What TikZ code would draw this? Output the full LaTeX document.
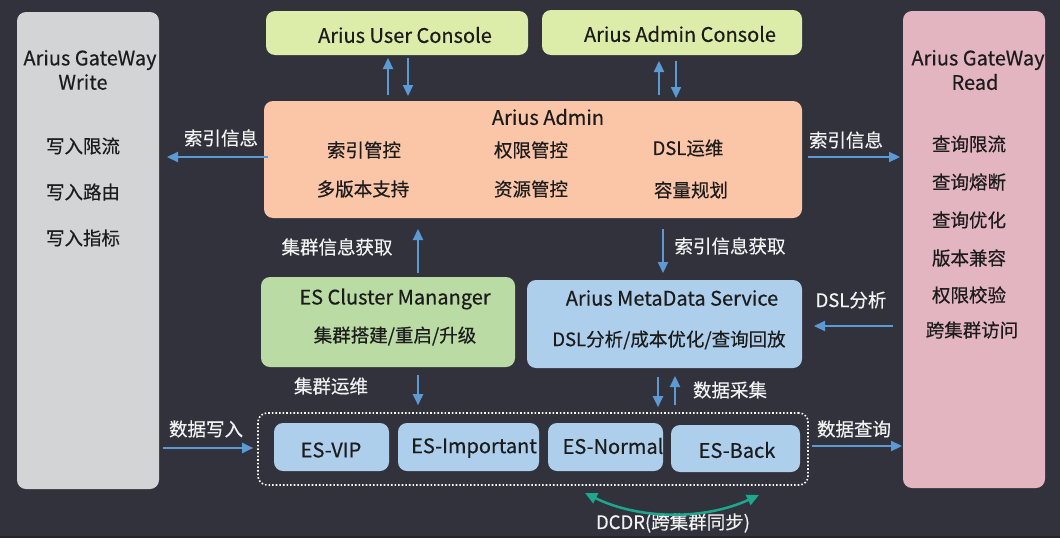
\documentclass[tikz,border=0pt]{standalone}
\usepackage{fontspec}
\setmainfont{Noto Sans CJK SC}[FakeBold=0.45]
\usetikzlibrary{arrows.meta}
\definecolor{bgc}{HTML}{31323C}
\definecolor{gwgray}{HTML}{D3D4D6}
\definecolor{gwpink}{HTML}{E3B5C1}
\definecolor{consolegreen}{HTML}{DCEDA9}
\definecolor{adminsalmon}{HTML}{FBC5A8}
\definecolor{clustergreen}{HTML}{BADBA4}
\definecolor{esblue}{HTML}{AECFEB}
\definecolor{arrowblue}{HTML}{5B9BD5}
\definecolor{tealc}{HTML}{1BA88E}
\definecolor{ink}{HTML}{1C1C1C}
\definecolor{lbl}{HTML}{F2F2F2}
\newcommand\mycjkfont{\fontsize{18.5}{22}\selectfont}
\newcommand\mylatfont{\fontsize{20}{24}\selectfont}
\begin{document}
\begin{tikzpicture}[x=1pt,y=-1pt,
  box/.style={rounded corners=9pt, inner sep=0pt, outer sep=0pt, draw=none},
  ctext/.style={text=ink, inner sep=0pt, font=\mycjkfont},
  ltext/.style={text=ink, inner sep=0pt, font=\mylatfont},
  wlbl/.style={text=lbl, inner sep=0pt, font=\mycjkfont},
  arr/.style={draw=arrowblue, line width=2.2pt, -{Triangle[length=11pt,width=10pt]}},
  dcdr/.style={draw=tealc, line width=2.5pt, {Triangle[length=12pt,width=11pt]}-{Triangle[length=12pt,width=11pt]}},
  dotbox/.style={draw=white, line width=1.6pt, dash pattern=on 1.6pt off 2pt, rounded corners=9pt, inner sep=0pt}
]
\fill[bgc] (0,0) rectangle (1060,538);
\fill[black!85] (0,535.5) rectangle (1060,538);
\useasboundingbox (0,0) rectangle (1060,538);

% boxes
\node[box, fill=gwgray, minimum width=142pt, minimum height=477pt] (gww) at (88,250.5) {};
\node[box, fill=gwpink, minimum width=142pt, minimum height=477pt] (gwr) at (974,249.5) {};
\node[box, fill=consolegreen, minimum width=262pt, minimum height=44pt] (uc) at (397,33) {};
\node[box, fill=consolegreen, minimum width=260pt, minimum height=45pt] (ac) at (672,32.5) {};
\node[box, fill=adminsalmon, minimum width=538pt, minimum height=117pt] (admin) at (533,159.5) {};
\node[box, fill=clustergreen, minimum width=254pt, minimum height=90pt] (cm) at (388,322) {};
\node[box, fill=esblue, minimum width=275pt, minimum height=88pt] (meta) at (664.5,324) {};
\node[dotbox, minimum width=550pt, minimum height=72pt] (cont) at (533,449) {};
\node[box, fill=esblue, minimum width=115pt, minimum height=48pt] (esv) at (331.5,447) {};
\node[box, fill=esblue, minimum width=141pt, minimum height=48pt] (esi) at (468.5,447) {};
\node[box, fill=esblue, minimum width=115pt, minimum height=48pt] (esn) at (605.5,447) {};
\node[box, fill=esblue, minimum width=129pt, minimum height=47pt] (esb) at (735.5,448.5) {};

% texts in boxes
\node[ltext] (tgw1) at (90,60) {Arius GateWay};
\node[ltext] (tgw2) at (83,82) {Write};
\node[ctext] (tw1) at (83,146) {写入限流};
\node[ctext] (tw2) at (83,192) {写入路由};
\node[ctext] (tw3) at (83,238) {写入指标};

\node[ltext] (tgr1) at (978,60) {Arius GateWay};
\node[ltext] (tgr2) at (975,82) {Read};
\node[ctext] (tr1) at (969,144) {查询限流};
\node[ctext] (tr2) at (969,182) {查询熔断};
\node[ctext] (tr3) at (969,220) {查询优化};
\node[ctext] (tr4) at (969,258) {版本兼容};
\node[ctext] (tr5) at (969,295) {权限校验};
\node[ctext] (tr6) at (972,330) {跨集群访问};

\node[ltext] (tuc) at (405,35) {Arius User Console};
\node[ltext] (tac) at (680,34) {Arius Admin Console};

\node[ltext] (tad) at (548,117) {Arius Admin};
\node[ctext] (ta1) at (364,150) {索引管控};
\node[ctext] (ta2) at (363,189) {多版本支持};
\node[ctext] (ta3) at (531,150) {权限管控};
\node[ctext] (ta4) at (531,189) {资源管控};
\node[ctext] (ta5) at (688,148) {DSL运维};
\node[ctext] (ta6) at (691,190) {容量规划};

\node[ltext] (tcm1) at (395,299) {ES Cluster Mananger};
\node[ctext] (tcm2) at (395,336) {集群搭建/重启/升级};
\node[ltext] (tmd1) at (672,298) {Arius MetaData Service};
\node[ctext] (tmd2) at (669,340) {DSL分析/成本优化/查询回放};

\node[ltext] (tesv) at (331,450) {ES-VIP};
\node[ltext] (tesi) at (474,448) {ES-Important};
\node[ltext] (tesn) at (613,446) {ES-Normal};
\node[ltext] (tesb) at (737,450) {ES-Back};

% labels
\node[wlbl] (l1) at (221,138) {索引信息};
\node[wlbl] (l2) at (846,140) {索引信息};
\node[wlbl] (l3) at (337,247) {集群信息获取};
\node[wlbl] (l4) at (730,246) {索引信息获取};
\node[wlbl] (l5) at (851,300) {DSL分析};
\node[wlbl] (l6) at (331,386) {集群运维};
\node[wlbl] (l7) at (730,390) {数据采集};
\node[wlbl] (l8) at (206,429) {数据写入};
\node[wlbl] (l9) at (854,429) {数据查询};
\node[wlbl] (l10) at (673,523) {DCDR(跨集群同步)};

% arrow x / y positions
\coordinate (x1) at (388,0);
\coordinate (x2) at (408,0);
\coordinate (x3) at (659,0);
\coordinate (x4) at (676,0);
\coordinate (x5) at (418,0);
\coordinate (x6) at (663,0);
\coordinate (x7) at (658,0);
\coordinate (x8) at (675,0);
\coordinate (y1) at (0,157);
\coordinate (y2) at (0,326);
\coordinate (y3) at (0,448);
\coordinate (y4) at (0,446);
\coordinate (dl) at (585,493);
\coordinate (dr) at (759,495);

% connectors
\draw[arr, shorten <=6pt, shorten >=3pt] (admin.north -| x1) -- (uc.south -| x1);
\draw[arr, shorten <=3pt, shorten >=5pt] (uc.south -| x2) -- (admin.north -| x2);
\draw[arr, shorten <=6pt, shorten >=6pt] (admin.north -| x3) -- (ac.south -| x3);
\draw[arr, shorten <=6pt, shorten >=3pt] (ac.south -| x4) -- (admin.north -| x4);
\draw[arr, shorten <=-4pt, shorten >=8pt] (admin.west |- y1) -- (gww.east |- y1);
\draw[arr, shorten <=6pt, shorten >=3pt] (admin.east |- y1) -- (gwr.west |- y1);
\draw[arr, shorten <=4pt, shorten >=11pt] (cm.north -| x5) -- (admin.south -| x5);
\draw[arr, shorten <=11pt, shorten >=7pt] (admin.south -| x6) -- (meta.north -| x6);
\draw[arr, shorten <=10pt, shorten >=12pt] (gwr.west |- y2) -- (meta.east |- y2);
\draw[arr, shorten <=8pt, shorten >=7pt] (cm.south -| x5) -- (cont.north -| x5);
\draw[arr, shorten <=9pt, shorten >=5pt] (meta.south -| x7) -- (cont.north -| x7);
\draw[arr, shorten <=7pt, shorten >=8pt] (cont.north -| x8) -- (meta.south -| x8);
\draw[arr, shorten <=4pt, shorten >=4pt] (gww.east |- y3) -- (cont.west |- y3);
\draw[arr, shorten <=3pt, shorten >=1pt] (cont.east |- y4) -- (gwr.west |- y4);
\draw[dcdr] (dl) .. controls (640,520) and (705,520) .. (dr);
\end{tikzpicture}
\end{document}
